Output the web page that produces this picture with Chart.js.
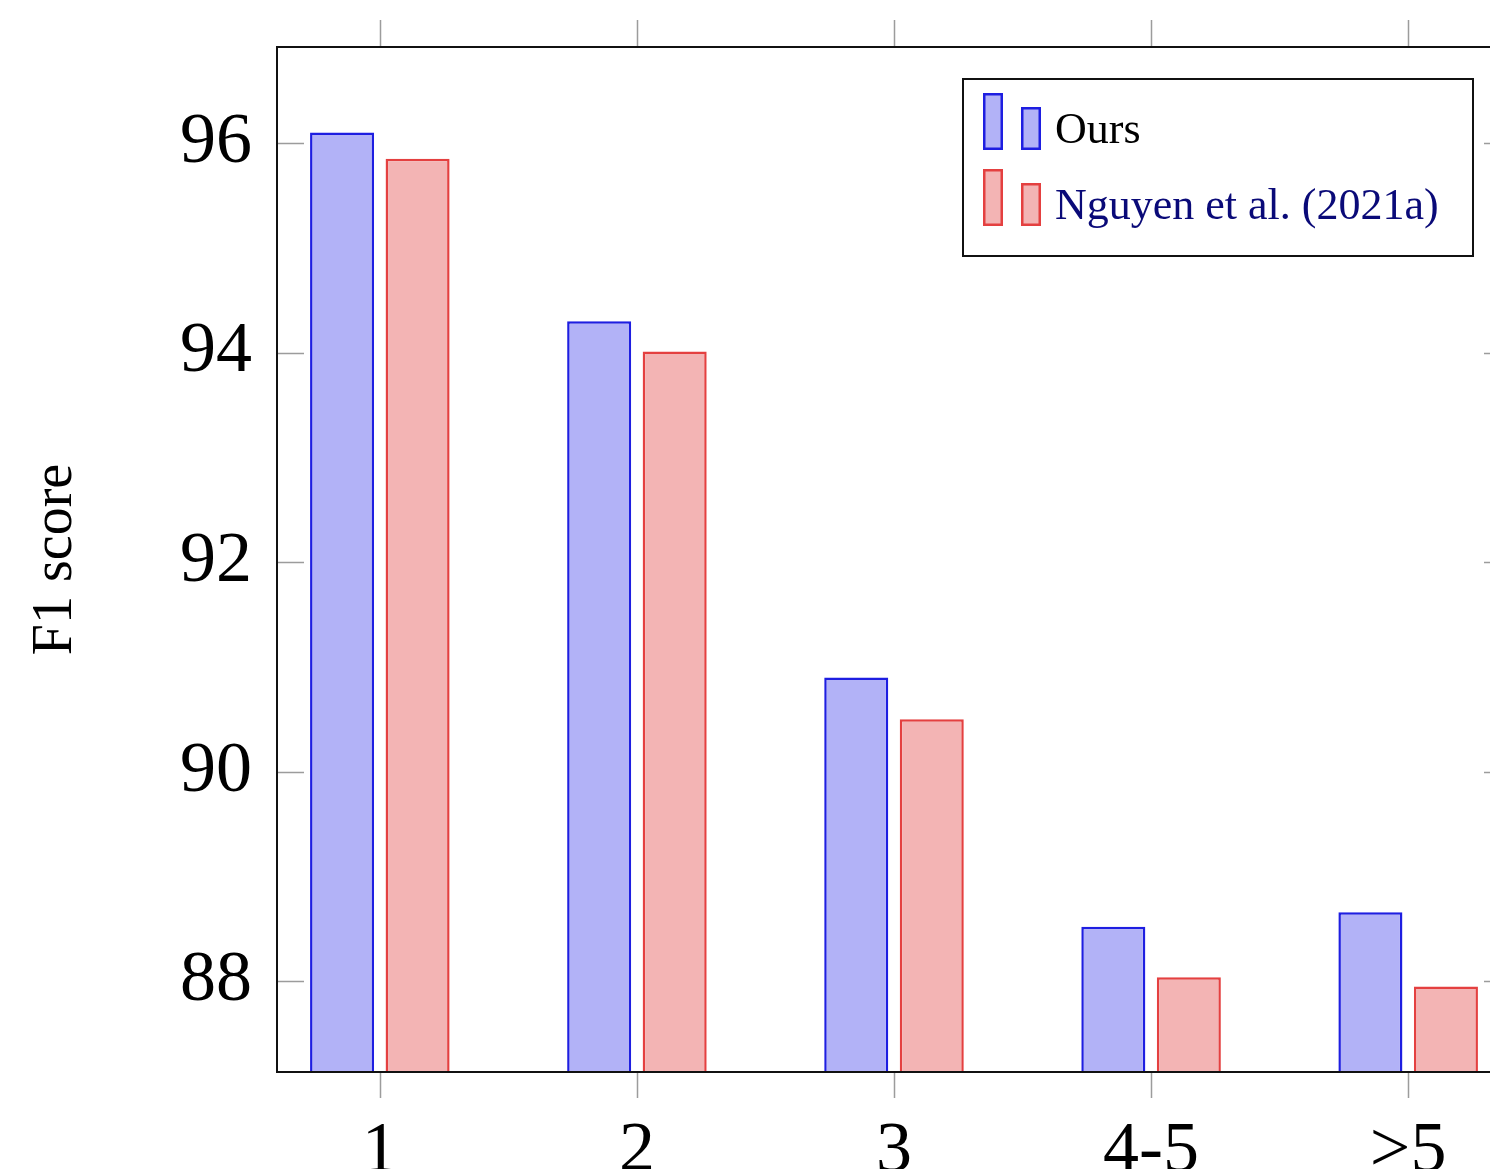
<!DOCTYPE html>
<html>
<head>
<meta charset="utf-8">
<script src="https://cdn.jsdelivr.net/npm/chart.js@4.4.1/dist/chart.umd.min.js"></script>
<style>
html, body { margin: 0; padding: 0; overflow: hidden; background: #ffffff; width: 1490px; height: 1169px; }
#wrap { position: absolute; left: 0; top: 0; width: 1540px; height: 1200px; }
</style>
</head>
<body>
<div id="wrap"><canvas id="c"></canvas></div>
<script>
// ---- data ----
const categories = ['1', '2', '3', '4-5', '>5'];
const oursValues = [96.10, 94.30, 90.90, 88.52, 88.66];
const nguyenValues = [95.85, 94.01, 90.50, 88.04, 87.95];
const yTickValues = [88, 90, 92, 94, 96];
const seriesNames = ['Ours', 'Nguyen et al. (2021a)'];

// ---- styles ----
const FONT = 'Liberation Serif';
const blueFill = 'rgb(178,178,247)';
const blueLine = 'rgb(30,30,225)';
const redFill = 'rgb(243,180,180)';
const redLine = 'rgb(228,64,64)';
const legendTextColors = ['#000000', '#0a0a78'];

Chart.defaults.font.family = FONT;
Chart.defaults.color = '#000';

function makeMarker(fill, stroke) {
  const c = document.createElement('canvas');
  c.width = 58; c.height = 76;
  const g = c.getContext('2d');
  g.lineWidth = 2.5;
  g.fillStyle = fill; g.strokeStyle = stroke;
  g.fillRect(1, 1, 18, 55); g.strokeRect(1.25, 1.25, 17.5, 54.5);
  g.fillRect(39, 15, 18, 41); g.strokeRect(39.25, 15.25, 17.5, 40.5);
  return c;
}
const markers = [makeMarker(blueFill, blueLine), makeMarker(redFill, redLine)];

const LEG = { left: 959, top: 77 };

const legendPlacer = {
  id: 'legendPlacer',
  beforeLayout(chart) {
    const lg = chart.legend;
    if (lg && !lg._patched) {
      const orig = lg.fit;
      lg.fit = function () { orig.call(this); this.width = 0; this.height = 0; };
      lg._patched = true;
    }
  },
  afterLayout(chart) {
    const lg = chart.legend;
    if (!lg) return;
    lg.left = LEG.left; lg.top = LEG.top;
    lg.width = 520; lg.height = 300;
    lg.right = LEG.left + 520; lg.bottom = LEG.top + 300;
  },
  afterDraw(chart) {
    const ctx = chart.ctx;
    ctx.save();
    ctx.strokeStyle = '#111';
    ctx.lineWidth = 2;
    ctx.strokeRect(LEG.left + 4, LEG.top + 2, 510, 177);
    ctx.restore();
  }
};

const axisFrame = {
  id: 'axisFrame',
  beforeDatasetsDraw(chart) {
    const { ctx, chartArea: a, scales: { x, y } } = chart;
    ctx.save();
    ctx.strokeStyle = '#9c9c9c';
    ctx.lineWidth = 1.5;
    ctx.beginPath();
    x.ticks.forEach(t => {
      const px = Math.round(x.getPixelForValue(t.value)) + 0.5;
      ctx.moveTo(px, a.top); ctx.lineTo(px, a.top - 27);
      ctx.moveTo(px, a.bottom); ctx.lineTo(px, a.bottom + 26);
    });
    y.ticks.forEach(t => {
      const py = Math.round(y.getPixelForValue(t.value)) + 0.5;
      ctx.moveTo(a.left, py); ctx.lineTo(a.left + 27, py);
      ctx.moveTo(a.right, py); ctx.lineTo(a.right - 27, py);
    });
    ctx.stroke();
    ctx.restore();
  },
  afterDatasetsDraw(chart) {
    const { ctx, chartArea: a } = chart;
    ctx.save();
    ctx.strokeStyle = '#111';
    ctx.lineWidth = 2;
    ctx.strokeRect(a.left, a.top, a.right - a.left, a.bottom - a.top);
    ctx.restore();
  }
};

new Chart(document.getElementById('c'), {
  type: 'bar',
  data: {
    datasets: [
      {
        label: seriesNames[0],
        data: oursValues.map((v, i) => ({ x: i, y: v })),
        backgroundColor: blueFill,
        borderColor: blueLine,
        borderWidth: 2.5,
        borderSkipped: false,
        categoryPercentage: 0.5875,
        barPercentage: 0.848
      },
      {
        label: seriesNames[1],
        data: nguyenValues.map((v, i) => ({ x: i, y: v })),
        backgroundColor: redFill,
        borderColor: redLine,
        borderWidth: 2.5,
        borderSkipped: false,
        categoryPercentage: 0.5875,
        barPercentage: 0.848
      }
    ]
  },
  options: {
    responsive: true,
    maintainAspectRatio: false,
    animation: false,
    layout: { padding: { top: 47, right: 29, bottom: 0, left: 0 } },
    plugins: {
      tooltip: { enabled: false },
      legend: {
        display: true,
        position: 'right',
        align: 'start',
        labels: {
          font: { family: FONT, size: 44 },
          usePointStyle: true,
          pointStyleWidth: 42,
          padding: 32,
          generateLabels: (chart) => chart.data.datasets.map((ds, i) => ({
            text: ds.label,
            fillStyle: ds.backgroundColor,
            strokeStyle: ds.borderColor,
            lineWidth: 0,
            pointStyle: markers[i],
            fontColor: legendTextColors[i],
            hidden: false,
            datasetIndex: i
          }))
        }
      }
    },
    scales: {
      x: {
        type: 'linear',
        min: -0.4,
        max: 4.4,
        offset: false,
        grid: { display: false, drawTicks: false },
        border: { display: false },
        ticks: {
          font: { family: FONT, size: 72 },
          color: '#000',
          padding: 37,
          autoSkip: false,
          maxRotation: 0,
          callback: (v) => categories[v]
        },
        afterBuildTicks: (s) => { s.ticks = categories.map((_, i) => ({ value: i })); },
        afterFit: (s) => { s.height = 128; s.paddingLeft = 0; s.paddingRight = 0; }
      },
      y: {
        min: 87.135,
        max: 96.916,
        grid: { display: false, drawTicks: false },
        border: { display: false },
        ticks: {
          font: { family: FONT, size: 72 },
          color: '#000',
          padding: 25
        },
        afterBuildTicks: (s) => { s.ticks = yTickValues.map(v => ({ value: v })); },
        afterFit: (s) => { s.width = 277; s.paddingTop = 0; s.paddingBottom = 0; },
        title: {
          display: true,
          text: 'F1 score',
          color: '#000',
          font: { family: FONT, size: 56 },
          padding: { top: 23, bottom: 0 }
        }
      }
    }
  },
  plugins: [legendPlacer, axisFrame]
});
</script>
</body>
</html>
